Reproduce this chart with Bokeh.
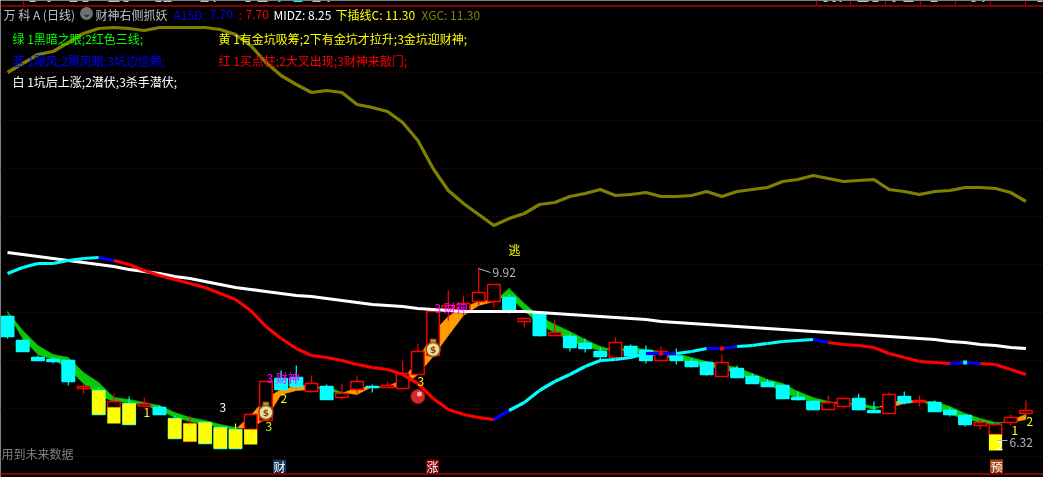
from bokeh.plotting import figure
from bokeh.embed import file_html
from bokeh.resources import INLINE
from bokeh.models import FixedTicker
from bokeh.core.properties import value

# ---------- series (prices, one value per trading day) ----------
candle_high = [8.98,8.50,8.18,8.14,8.08,7.62,7.54,7.42,7.36,7.34,7.18,6.98,6.98,6.86,6.74,6.82,7.02,7.66,7.88,7.98,
               7.78,7.60,7.62,7.76,7.60,7.66,8.08,8.42,9.06,9.48,9.38,9.92,9.60,9.40,8.92,9.04,8.90,8.62,8.52,8.34,
               8.54,8.40,8.38,8.36,8.32,8.12,8.06,8.20,7.98,7.82,7.70,7.58,7.46,7.28,7.38,7.34,7.42,7.26,7.44,7.46,
               7.38,7.28,7.14,6.98,6.90,6.86,7.00,7.28]
candle_open = [8.96,8.48,8.14,8.10,8.08,7.52,7.48,7.14,7.22,7.17,7.14,6.92,6.46,6.84,6.74,6.70,6.70,6.88,7.72,7.74,
               7.46,7.56,7.34,7.50,7.56,7.54,7.52,7.80,8.18,9.12,9.04,9.26,9.26,9.34,8.86,9.04,8.58,8.56,8.42,8.26,
               8.14,8.36,8.28,8.08,8.16,8.06,8.04,7.76,7.92,7.76,7.64,7.58,7.34,7.26,7.10,7.16,7.32,7.08,7.02,7.36,
               7.25,7.24,7.08,6.98,6.78,6.60,6.84,7.02]
candle_close = [8.56,8.26,8.08,8.06,7.66,7.56,7.00,7.26,6.80,7.21,7.00,6.52,6.82,6.42,6.32,6.32,7.00,7.66,7.50,7.56,
                7.62,7.30,7.42,7.66,7.54,7.58,7.82,8.26,9.06,9.18,9.22,9.44,9.60,9.08,8.92,8.58,8.64,8.34,8.32,8.16,
                8.44,8.18,8.08,8.26,8.08,7.96,7.80,8.04,7.74,7.62,7.56,7.32,7.30,7.10,7.24,7.32,7.10,7.04,7.40,7.24,
                7.28,7.06,7.00,6.80,6.84,6.80,6.94,7.08]
candle_low = [8.52,8.26,8.08,8.02,7.58,7.42,7.00,7.14,6.80,7.14,7.00,6.52,6.46,6.42,6.32,6.32,6.70,6.88,7.48,7.56,
              7.44,7.30,7.30,7.42,7.44,7.54,7.52,7.80,8.16,8.88,8.98,9.18,9.14,9.02,8.74,8.56,8.56,8.26,8.24,8.08,
              8.12,8.14,8.02,8.08,8.00,7.94,7.78,7.76,7.74,7.62,7.56,7.32,7.28,7.08,7.08,7.12,7.08,7.04,7.02,7.20,
              7.16,7.06,6.96,6.76,6.70,6.28,6.78,7.02]
yellow_days = [6,7,8,11,12,13,14,15,16,65]
yellow_top = [7.48,7.14,7.22,6.92,6.82,6.84,6.74,6.70,6.70,6.60]
yellow_bottom = [7.00,6.82,6.80,6.52,6.46,6.42,6.32,6.32,6.40,6.28]
yellow_wick_days = [15]

band_fast = [9.04,8.52,8.20,8.10,7.92,7.62,7.38,7.26,7.24,7.18,7.10,6.94,6.86,6.80,6.74,6.70,6.98,7.32,7.50,7.56,
             7.60,7.48,7.42,7.54,7.54,7.56,7.70,8.08,8.64,8.96,9.14,9.26,9.30,9.36,9.08,8.80,8.64,8.48,8.36,8.28,
             8.30,8.26,8.20,8.16,8.12,8.02,7.96,7.92,7.82,7.70,7.60,7.46,7.32,7.26,7.24,7.24,7.18,7.10,7.24,7.28,
             7.28,7.16,7.00,6.92,6.84,6.80,6.88,7.00]
band_slow = [9.06,8.68,8.38,8.20,8.14,7.84,7.64,7.34,7.30,7.24,7.18,7.04,6.94,6.88,6.80,6.74,6.72,6.92,7.40,7.48,
             7.50,7.56,7.44,7.40,7.56,7.54,7.56,7.80,8.16,8.58,8.98,9.18,9.26,9.52,9.22,8.96,8.80,8.66,8.50,8.36,
             8.28,8.34,8.30,8.26,8.22,8.14,8.06,8.00,7.94,7.82,7.70,7.62,7.46,7.34,7.26,7.20,7.22,7.16,7.14,7.22,
             7.26,7.26,7.16,7.02,6.92,6.84,6.84,6.90]

xgc_line = [13.84,14.02,14.20,14.26,14.44,14.62,14.72,14.74,14.72,14.68,14.74,14.74,14.74,14.74,14.70,14.60,14.38,14.04,13.78,13.60,
            13.44,13.48,13.44,13.20,13.14,13.06,12.84,12.48,11.92,11.48,11.22,11.00,10.78,10.92,11.02,11.20,11.24,11.36,11.42,11.50,
            11.38,11.40,11.44,11.36,11.36,11.38,11.46,11.36,11.46,11.50,11.54,11.66,11.70,11.78,11.72,11.66,11.68,11.70,11.50,11.46,
            11.40,11.46,11.48,11.54,11.54,11.52,11.44,11.26]
white_line = [10.24,10.20,10.16,10.12,10.08,10.04,10.00,9.96,9.90,9.86,9.82,9.76,9.72,9.66,9.60,9.54,9.50,9.46,9.42,9.38,
              9.36,9.32,9.28,9.24,9.20,9.18,9.16,9.12,9.10,9.08,9.06,9.06,9.06,9.06,9.06,9.04,9.02,9.00,8.98,8.96,
              8.94,8.92,8.90,8.86,8.84,8.82,8.80,8.78,8.76,8.74,8.72,8.70,8.68,8.66,8.64,8.62,8.60,8.58,8.56,8.54,
              8.52,8.50,8.46,8.44,8.40,8.38,8.34,8.32]
trend_line = [9.82,9.94,10.02,10.02,10.08,10.12,10.14,10.08,10.00,9.88,9.78,9.70,9.62,9.54,9.42,9.30,9.08,8.76,8.52,8.32,
              8.18,8.14,8.08,8.00,7.94,7.90,7.80,7.62,7.32,7.10,7.00,6.94,6.90,7.08,7.24,7.48,7.66,7.80,7.96,8.08,
              8.10,8.14,8.22,8.22,8.22,8.26,8.32,8.32,8.36,8.38,8.42,8.46,8.48,8.50,8.44,8.40,8.38,8.34,8.22,8.14,
              8.06,8.04,8.02,8.04,8.02,8.00,7.90,7.80]
trend_state = list("cccccc" "b" "rrrrrrrrrrrrrrrrrrrrrrrrr" "b" "ccccccccc" "bb" "cc" "bb" "ccccc" "b" "rrrrrrrr" "bb" "rrr")
trend_dots = [(43,"#ff0000"),(47,"#ff0000"),(63,"#00ffff")]
grid_prices = [13.85,12.89,11.93,10.97,10.01,9.05,8.09,7.13,6.17]
bag_days, bag_prices = [17,28], [7.04,8.30]
ball_day, ball_price = 27, 7.36

header_texts = [("万 科 A (日线)",3,"#c0c0c0"),("财神右侧抓妖",95,"#c0c0c0"),("A15D:",173,"#0000ff"),("7.70",209,"#0000ff"),
                (":",238,"#ff0000"),("7.70",245,"#ff0000"),("MIDZ: 8.25",273,"#ffffff"),("下插线C: 11.30",335,"#ffff00"),("XGC: 11.30",421,"#808000")]
note_texts = [("绿 1黑暗之眼;2红色三线;",12,38,"#00ff00"),("黄 1有金坑吸筹;2下有金坑才拉升;3金坑迎财神;",218,38,"#ffff00"),
              ("蓝 1飓风;2飓风眼;3坑边信赖;",12,60,"#0000ff"),("红 1买点柱;2大叉出现;3财神来敲门;",218,60,"#ff0000"),
              ("白 1坑后上涨;2潜伏;3杀手潜伏;",12,81,"#ffffff")]
chart_texts = [("逃",508,249,"#ffff00"),("9.92",492,272,"#b8b8b8"),("6.32",1009,442,"#b8b8b8"),("3",219,407,"#ffffff"),
               ("1",143,412,"#ffff00"),("3 财神",266,377,"#ff00ff"),("3 财神",434,307,"#ff00ff"),("2",280,398,"#ffff00"),
               ("3",265,426,"#c8ff20"),("3",417,381,"#ffff00"),("1",1011,430,"#ffff00"),("2",1026,421,"#ffff00"),
               ("2",996,445,"#ffffff"),("用到未来数据",1,453,"#808080")]
signal_boxes = [("财",279,"#0f3860"),("涨",432,"#800000"),("预",996,"#a64010")]

# ---------- layout helpers (screen pixels of the 1043x477 picture to data units) ----------
BAR0, STEP = 7.0, 15.2
def X(px): return (px - BAR0) / STEP
def Y(py): return 15.28 - 0.02 * py

p = figure(width=1043, height=477, x_range=(X(0), X(1043)), y_range=(Y(477), Y(0)),
           output_backend="svg", toolbar_location=None, min_border=0,
           background_fill_color="#000000", border_fill_color="#000000", outline_line_color=None)
p.styles = {"position": "fixed", "left": "0", "top": "0"}
p.xaxis.visible = False
p.yaxis.visible = False
p.xgrid.visible = False
p.ygrid.ticker = FixedTicker(ticks=grid_prices)
p.ygrid.grid_line_color = "#800000"
p.ygrid.grid_line_dash = "1 3"
p.ygrid.grid_line_width = 1

# frame lines, tab dividers and the clipped bottoms of the tab captions
p.segment([X(0), X(0)], [Y(5.5), Y(473.5)], [X(1043), X(1043)], [Y(5.5), Y(473.5)], line_color="#b00000", line_width=1.5)
tab_x = [23, 816, 850, 885, 920, 955, 990, 1025]
p.segment([X(v) for v in tab_x], [Y(0)] * len(tab_x), [X(v) for v in tab_x], [Y(5)] * len(tab_x), line_color="#b00000", line_width=1)
caption_gray = [(29,35),(47,50),(69,77),(82,88),(108,119),(123,128),(155,161),(163,171),(200,208),(213,215),(245,250),
                (257,267),(312,320),(327,329),(823,827),(832,835),(839,841),(857,868),(872,878),(892,895),(903,913),
                (930,937),(971,975),(982,984),(1037,1042)]
caption_cyan = [(278,280),(293,302)]
for spans, c in ((caption_gray, "#c0c0c0"), (caption_cyan, "#00ffff")):
    p.segment([X(a) for a, _ in spans], [Y(0.7)] * len(spans), [X(b) for _, b in spans], [Y(0.7)] * len(spans),
              line_color=c, line_width=1.4)

# fast / slow band
GREEN, ORANGE = "#0ac80a", "#ff9c00"
xs, ys, cs = [], [], []
for i in range(len(band_fast) - 1):
    f0, s0, f1, s1 = band_fast[i], band_slow[i], band_fast[i + 1], band_slow[i + 1]
    d0, d1 = f0 - s0, f1 - s1
    if d0 * d1 >= 0:
        xs.append([i, i + 1, i + 1, i]); ys.append([f0, f1, s1, s0])
        cs.append(ORANGE if d0 + d1 > 0 else GREEN)
    else:
        t = d0 / (d0 - d1)
        xc, yc = i + t, f0 + t * (f1 - f0)
        xs.append([i, xc, i]); ys.append([f0, yc, s0]); cs.append(ORANGE if d0 > 0 else GREEN)
        xs.append([xc, i + 1, i + 1]); ys.append([yc, f1, s1]); cs.append(ORANGE if d1 > 0 else GREEN)
p.patches(xs, ys, fill_color=cs, line_color=cs, line_width=0.6)

# candles
days = list(range(len(candle_open)))
up = [c >= o for o, c in zip(candle_open, candle_close)]
wick_col = ["#ff0000" if u else "#00ffff" for u in up]
for d in yellow_wick_days:
    wick_col[d] = "#ffff00"
BW = 12.6 / STEP
p.segment(days, candle_high, days, candle_low, line_color=wick_col, line_width=1.2)
p.vbar(x=days, width=BW, top=[max(o, c) for o, c in zip(candle_open, candle_close)],
       bottom=[min(o, c) for o, c in zip(candle_open, candle_close)],
       fill_color=["#000000" if u else "#00ffff" for u in up],
       line_color=["#ff0000" if u else "#00ffff" for u in up], line_width=1.4)
p.vbar(x=yellow_days, width=BW + 0.04, top=yellow_top, bottom=yellow_bottom, fill_color="#ffff00", line_color=None)

# lines
p.line(days, xgc_line, line_color="#808000", line_width=3.2)
p.line(days, white_line, line_color="#ffffff", line_width=3.2)
col = {"c": "#00ffff", "b": "#0000ff", "r": "#ff0000"}
p.multi_line([[i, i + 1] for i in range(len(trend_line) - 1)],
             [[trend_line[i], trend_line[i + 1]] for i in range(len(trend_line) - 1)],
             line_color=[col[s] for s in trend_state], line_width=3.2)
p.scatter([d for d, _ in trend_dots], [trend_line[d] for d, _ in trend_dots], marker="square",
          size=4, fill_color=[c for _, c in trend_dots], line_color=None)

# leaders for the high / low labels
p.segment([X(478), X(997)], [Y(268), Y(440)], [X(490), X(1007)], [Y(272), Y(440)], line_color="#b8b8b8", line_width=1)

# icons: money bags, ball, header dot
p.scatter(bag_days, [v + 0.15 for v in bag_prices], marker="square", size=6, fill_color="#d09030", line_color="#604010")
p.scatter(bag_days, bag_prices, marker="circle", size=14, fill_color="#f0dc9c", line_color="#905a20", line_width=1.5)
p.text(bag_days, bag_prices, text=["$", "$"], text_color="#804010", text_font=value("DejaVu Sans"), text_font_style="bold",
       text_font_size="9px", text_align="center", text_baseline="middle")
p.scatter([ball_day], [ball_price], marker="circle", size=14, fill_color="#d82828", line_color="#a01818")
p.scatter([ball_day + 0.1], [ball_price + 0.05], marker="circle", size=5, fill_color="#ffb0b0", line_color=None)
p.scatter([X(86)], [Y(13)], marker="circle", size=13, fill_color="#707070", line_color=None)
p.text([X(86)], [Y(12.5)], text=["⌄"], text_color="#101010", text_font=value("DejaVu Sans"), text_font_size="11px",
       text_align="center", text_baseline="middle")

CJK = value("Noto Sans CJK SC")
def put(items, size="12px"):
    for s, x, y, c in items:
        p.text([X(x)], [Y(y)], text=[s], text_color=c, text_font=CJK, text_font_size=size,
               text_align="left", text_baseline="middle")

put([(s, x, 14, c) for s, x, c in header_texts])
put(note_texts)
put(chart_texts)

for s, x, c in signal_boxes:
    p.quad(left=[X(x - 6.5)], right=[X(x + 6.5)], top=[Y(459)], bottom=[Y(472)], fill_color=c, line_color=None)
    p.text([X(x)], [Y(465.5)], text=[s], text_color="#ffffff", text_font=CJK, text_font_size="12px",
           text_align="center", text_baseline="middle")

open("out.html", "w").write(file_html(p, INLINE))
